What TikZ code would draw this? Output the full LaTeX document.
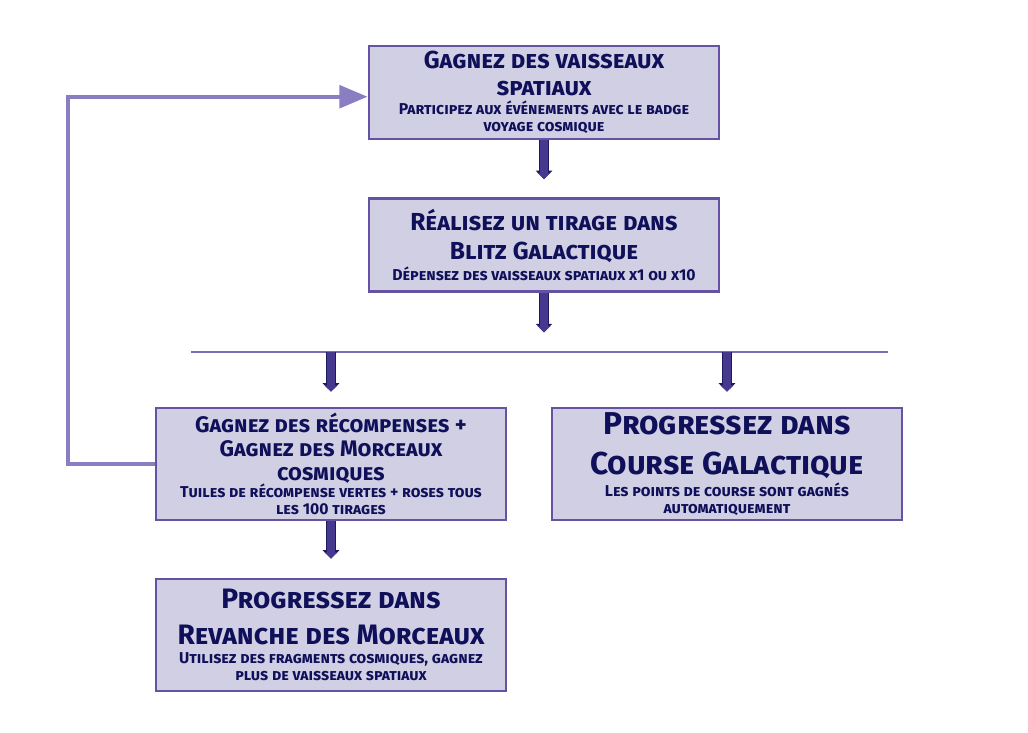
\documentclass[tikz,border=0pt]{standalone}
\usepackage{fontspec}
\setmainfont{Fira Sans}[UprightFont=* Bold, Letters=SmallCaps]
\usetikzlibrary{arrows.meta}

\definecolor{boxfill}{HTML}{D0CFE3}
\definecolor{boxline}{HTML}{6652A2}
\definecolor{navy}{HTML}{10105A}
\definecolor{arrfill}{HTML}{46388F}
\definecolor{arrline}{HTML}{1E1A60}
\definecolor{loopc}{HTML}{8B7DC2}
\definecolor{hlc}{HTML}{7A6AB8}

\newcommand{\ttl}{\fontsize{17.5}{19}\selectfont}
\newcommand{\midttl}{\fontsize{16}{18}\selectfont}
\newcommand{\bigttl}{\fontsize{22.5}{24}\selectfont}
\newcommand{\sbt}{\fontsize{11.2}{12}\selectfont}

\tikzset{
  stepbox/.style={draw=boxline, fill=boxfill, line width=2pt, text=navy,
    align=center, minimum width=8.75cm, inner sep=2pt},
  blockarr/.style={line width=5.5pt, draw=arrfill,
    -{Triangle[width=9pt,length=4.5pt]},
    preaction={draw=arrline, line width=7.5pt, -{Triangle[width=11.5pt,length=6pt]}}},
  looparr/.style={line width=2.8pt, draw=loopc, -{Triangle[width=16pt,length=20pt]}}
}

\begin{document}
\begin{tikzpicture}[x=0.025cm, y=-0.025cm]
\useasboundingbox (0,0) rectangle (1028,732);

% Steps
\node[stepbox, minimum height=2.325cm] (b1) at (544,92.5)
  {\ttl Gagnez des vaisseaux\\[7pt]\ttl spatiaux\\[2pt]\sbt Participez aux événements avec le badge\\\sbt voyage cosmique};
\node[stepbox, minimum height=2.325cm] (b2) at (544,245)
  {\ttl Réalisez un tirage dans\\[7pt]\ttl Blitz Galactique\\[2pt]\sbt Dépensez des vaisseaux spatiaux x1 ou x10};
\node[stepbox, minimum height=2.8cm] (b3) at (331,464)
  {\midttl Gagnez des récompenses +\\[5pt]\midttl Gagnez des Morceaux\\[5pt]\midttl cosmiques\\[0pt]\sbt Tuiles de récompense vertes + roses tous\\\sbt les 100 tirages};
\node[stepbox, minimum height=2.8cm] (b4) at (727,464)
  {\bigttl Progressez dans\\[11pt]\bigttl Course Galactique\\[2pt]\sbt Les points de course sont gagnés\\\sbt automatiquement};
\node[stepbox, minimum height=2.8cm] (b5) at (331,635)
  {\fontsize{20}{22}\selectfont Progressez dans\\[10pt]\fontsize{20}{22}\selectfont Revanche des Morceaux\\[2pt]\sbt Utilisez des fragments cosmiques, gagnez\\\sbt plus de vaisseaux spatiaux};

% Split line
\coordinate (hlL) at (191,352);
\coordinate (hlR) at (888,352);
\draw[hlc, line width=1pt] (hlL) -- (hlR);

% Block arrows
\draw[blockarr] (b1.south) -- ([yshift=12.8pt]b2.north);
\draw[blockarr] (b2.south) -- ([yshift=14pt]b2.south |- hlL);
\draw[blockarr] (b3.north |- hlL) -- ([yshift=10.6pt]b3.north);
\draw[blockarr] (b4.north |- hlL) -- ([yshift=10.6pt]b4.north);
\draw[blockarr] (b3.south) -- ([yshift=13.5pt]b5.north);

% Loop back
\coordinate (lp) at (68,0);
\coordinate (hit) at ([yshift=-3pt]b1.west);
\coordinate (turn) at (hit -| lp);
\draw[looparr] (b3.west) -| (turn) -- (hit);

\end{tikzpicture}
\end{document}
